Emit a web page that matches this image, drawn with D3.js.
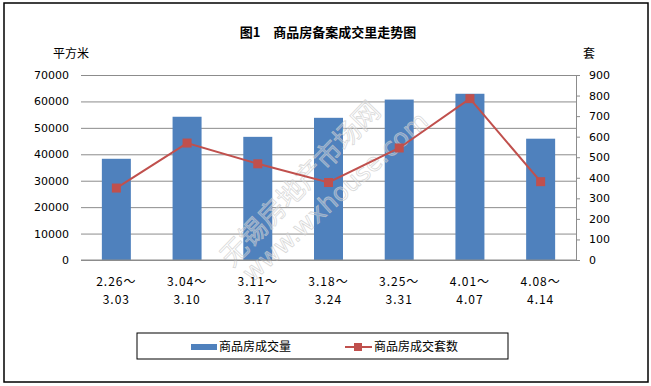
<!DOCTYPE html>
<html>
<head>
<meta charset="utf-8">
<script src="https://cdn.jsdelivr.net/npm/d3@7"></script>
<style>
  body { margin: 0; background: #fff; }
  svg { display: block; font-family: "Noto Sans CJK SC", "DejaVu Sans", sans-serif; }
</style>
</head>
<body>
<svg width="651" height="386"></svg>
<script>
var weeksFrom = ["2.26～", "3.04～", "3.11～", "3.18～", "3.25～", "4.01～", "4.08～"];
var weeksTo = ["3.03", "3.10", "3.17", "3.24", "3.31", "4.07", "4.14"];
var area = [38300, 54200, 46600, 53800, 60700, 62900, 45900];
var units = [350, 569, 468, 377, 545, 785, 381];
var leftTicks = [0, 10000, 20000, 30000, 40000, 50000, 60000, 70000];
var rightTicks = [0, 100, 200, 300, 400, 500, 600, 700, 800, 900];

var svg = d3.select("svg");
var plotL = 81, plotR = 576, plotT = 75, plotB = 260;
var blue = "#4f81bd", red = "#c0504d", grid = "#8c8c8c";

// frame
svg.append("rect")
    .attr("x", 4).attr("y", 3).attr("width", 644).attr("height", 379)
    .attr("fill", "#fff").attr("stroke", "#000").attr("stroke-width", 1.5);

svg.append("text")
    .attr("x", 328).attr("y", 37)
    .attr("text-anchor", "middle")
    .attr("font-size", 13).attr("font-weight", "bold")
    .text("图1　商品房备案成交里走势图");

svg.append("text").attr("x", 53).attr("y", 58).attr("font-size", 12).text("平方米");
svg.append("text").attr("x", 583).attr("y", 58).attr("font-size", 12).text("套");

var x = d3.scaleBand().domain(d3.range(weeksFrom.length)).range([plotL, plotR]).paddingInner(0.59).paddingOuter(0.295);
var yL = d3.scaleLinear().domain([0, 70000]).range([plotB, plotT]);
var yR = d3.scaleLinear().domain([0, 900]).range([plotB, plotT]);

// gridlines + left labels
var gL = svg.append("g").attr("transform", "translate(" + plotL + ",0)")
    .call(d3.axisLeft(yL).tickValues(leftTicks).tickSize(-(plotR - plotL)).tickPadding(12).tickFormat(d3.format("d")));
gL.select(".domain").remove();
gL.selectAll("line").attr("stroke", grid);
gL.selectAll("text").attr("font-size", 11).attr("fill", "#000").attr("font-family", "DejaVu Sans");

// right axis
var gR = svg.append("g").attr("transform", "translate(" + plotR + ",0)")
    .call(d3.axisRight(yR).tickValues(rightTicks).tickSize(4).tickSizeOuter(0).tickPadding(9));
gR.select(".domain").attr("stroke", grid);
gR.selectAll("line").attr("stroke", grid);
gR.selectAll("text").attr("font-size", 11).attr("fill", "#000").attr("font-family", "DejaVu Sans");

// bars
svg.append("g").selectAll("rect")
    .data(area)
    .enter()
    .append("rect")
    .attr("x", function(d, i) { return x(i); })
    .attr("y", function(d) { return yL(d); })
    .attr("width", x.bandwidth())
    .attr("height", function(d) { return plotB - yL(d); })
    .attr("fill", blue);

// watermark
var wm = svg.append("g").attr("fill", "rgba(255,255,255,0.3)").attr("stroke", "rgba(200,200,200,0.7)").attr("stroke-width", 0.8);
wm.append("text").attr("transform", "translate(232,268) rotate(-46)")
    .attr("font-size", 27).text("无锡房地产市场网");
wm.append("text").attr("transform", "translate(252,283) rotate(-42)")
    .attr("font-size", 25).attr("font-family", "DejaVu Sans").text("www.wxhouse.com");

// baseline
svg.append("line").attr("x1", plotL).attr("x2", plotR).attr("y1", plotB).attr("y2", plotB).attr("stroke", grid);

// line series
var cx = function(i) { return x(i) + x.bandwidth() / 2; };
svg.append("path")
    .datum(units)
    .attr("fill", "none").attr("stroke", red).attr("stroke-width", 2)
    .attr("d", d3.line().x(function(d, i) { return cx(i); }).y(function(d) { return yR(d); }));
svg.append("g").selectAll("rect")
    .data(units)
    .enter()
    .append("rect")
    .attr("x", function(d, i) { return cx(i) - 4.5; })
    .attr("y", function(d) { return yR(d) - 4.5; })
    .attr("width", 9).attr("height", 9)
    .attr("fill", red);

// x labels
var xl = svg.append("g").attr("font-size", 12).attr("text-anchor", "middle").attr("letter-spacing", 1);
xl.selectAll(".from").data(weeksFrom).enter().append("text")
    .attr("x", function(d, i) { return cx(i); }).attr("y", 286).text(function(d) { return d; });
xl.selectAll(".to").data(weeksTo).enter().append("text")
    .attr("x", function(d, i) { return cx(i); }).attr("y", 304).text(function(d) { return d; });

// legend
var lg = svg.append("g");
lg.append("rect").attr("x", 137).attr("y", 333).attr("width", 371).attr("height", 26)
    .attr("fill", "#fff").attr("stroke", "#000").attr("stroke-width", 1);
lg.append("rect").attr("x", 191).attr("y", 344).attr("width", 26).attr("height", 6).attr("fill", blue);
lg.append("text").attr("x", 219).attr("y", 351).attr("font-size", 12).text("商品房成交量");
lg.append("line").attr("x1", 345).attr("x2", 372).attr("y1", 347).attr("y2", 347).attr("stroke", red).attr("stroke-width", 2);
lg.append("rect").attr("x", 354).attr("y", 343).attr("width", 8).attr("height", 8).attr("fill", red);
lg.append("text").attr("x", 374).attr("y", 351).attr("font-size", 12).text("商品房成交套数");
</script>
</body>
</html>
